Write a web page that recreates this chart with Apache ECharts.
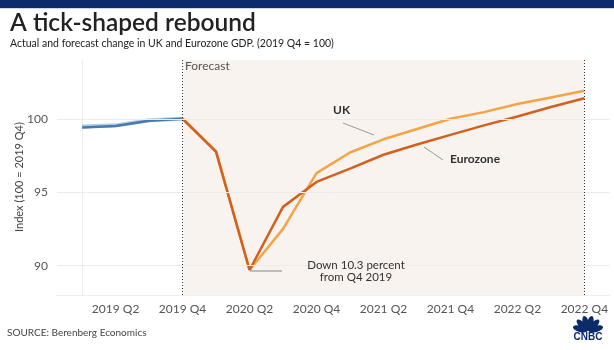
<!DOCTYPE html>
<html>
<head>
<meta charset="utf-8">
<script src="https://cdn.jsdelivr.net/npm/echarts@6/dist/echarts.min.js"></script>
<style>
  html, body { margin: 0; padding: 0; background: #fff; }
  #chart { width: 614px; height: 350px; }
</style>
</head>
<body>
<div id="chart"></div>
<script>
// quarters on the x axis, 2019 Q1 = index 0
const quarters = ['2019 Q1', '2019 Q2', '2019 Q3', '2019 Q4',
  '2020 Q1', '2020 Q2', '2020 Q3', '2020 Q4',
  '2021 Q1', '2021 Q2', '2021 Q3', '2021 Q4',
  '2022 Q1', '2022 Q2', '2022 Q3', '2022 Q4'];

// actual (2019 Q1 .. 2019 Q4)
const ukActual = [99.47, 99.55, 99.9, 100];
const ezActual = [99.4, 99.5, 99.86, 100];

// forecast (2019 Q4 .. 2022 Q4)
const forecastStart = 3;
const ukForecast = [100, 97.8, 89.7, 92.5, 96.3, 97.7, 98.6, 99.3, 100.0, 100.45, 101.0, 101.45, 101.9];
const ezForecast = [100, 97.75, 89.7, 94.0, 95.7, 96.6, 97.55, 98.25, 98.9, 99.55, 100.15, 100.8, 101.4];

const yGrid = [90, 95, 100];

const pairs = (vals, start) => vals.map((v, i) => [start + i, v]);

const chart = echarts.init(document.getElementById('chart'));
const font = 'Lato, "Open Sans", sans-serif';

// logo petals for the CNBC mark
const petals = [-75, -45, -15, 15, 45, 75].map(a => {
  const r = a * Math.PI / 180;
  return {
    type: 'ellipse',
    x: 588 + 8 * Math.sin(r),
    y: 331 - 8 * Math.cos(r),
    rotation: -r,
    shape: { cx: 0, cy: 0, rx: 3.1, ry: 7.5 },
    style: { fill: '#0c2b6b' }
  };
});

chart.setOption({
  animation: false,
  backgroundColor: '#fff',
  textStyle: { fontFamily: font },
  grid: { left: 57, right: 4.5, top: 60, bottom: 55 },
  xAxis: {
    type: 'value',
    min: -0.75,
    max: 15.75,
    interval: 0.25,
    axisLine: { show: true, lineStyle: { color: '#eeeeee' } },
    axisTick: { show: false },
    splitLine: { show: false },
    axisLabel: {
      color: '#555',
      fontSize: 12,
      margin: 8,
      formatter: v => (Number.isInteger(v) && v % 2 === 1) ? quarters[v] : ''
    }
  },
  yAxis: {
    type: 'value',
    min: 88,
    max: 104,
    interval: 1,
    axisLine: { show: true, lineStyle: { color: '#eeeeee' } },
    axisTick: { show: false },
    splitLine: { show: false },
    axisLabel: {
      color: '#555',
      fontSize: 12,
      margin: 9,
      formatter: v => (v % 5 === 0) ? String(v) : ''
    }
  },
  series: [
    {
      type: 'line',
      data: [],
      silent: true,
      markArea: {
        silent: true,
        itemStyle: { color: '#f8f3ef' },
        data: [[{ xAxis: forecastStart }, { xAxis: quarters.length - 1 }]]
      },
      markLine: {
        silent: true,
        symbol: 'none',
        label: { show: false },
        data: yGrid.map(v => ({ yAxis: v, lineStyle: { color: '#ebebeb', width: 1, type: 'solid' } }))
          .concat([forecastStart, quarters.length - 1].map(x => ({ xAxis: x, lineStyle: { color: '#333', width: 1, type: [1, 2] } })))
      }
    },
    {
      name: 'UK actual',
      type: 'line',
      data: pairs(ukActual, 0),
      symbol: 'none',
      lineStyle: { color: '#a9d0ee', width: 4 },
      z: 3
    },
    {
      name: 'Eurozone actual',
      type: 'line',
      data: pairs(ezActual, 0),
      symbol: 'none',
      lineStyle: { color: '#4a78aa', width: 2.5 },
      z: 4
    },
    {
      name: 'UK',
      type: 'line',
      data: pairs(ukForecast, forecastStart),
      symbol: 'none',
      lineStyle: { color: '#f5a445', width: 2.5 },
      z: 3
    },
    {
      name: 'Eurozone',
      type: 'line',
      data: pairs(ezForecast, forecastStart),
      symbol: 'none',
      lineStyle: { color: '#d2601f', width: 2.5 },
      z: 4
    }
  ],
  graphic: [
    { type: 'rect', z: 100, shape: { x: 0, y: 0, width: 614, height: 8 }, style: { fill: '#0c2b6b' } },
    { type: 'rect', z: 100, shape: { x: 0, y: 8, width: 614, height: 1 }, style: { fill: '#c9d8ee' } },
    { type: 'text', z: 100, left: 10, top: 11, style: { text: 'A tick-shaped rebound', fill: '#222', font: '600 24.5px ' + font } },
    { type: 'text', z: 100, left: 10, top: 38, style: { text: 'Actual and forecast change in UK and Eurozone GDP. (2019 Q4 = 100)', fill: '#222', font: '10.5px ' + font } },
    { type: 'text', z: 100, x: 19, y: 177, rotation: Math.PI / 2, style: { text: 'Index (100 = 2019 Q4)', fill: '#444', font: '11px ' + font, align: 'center', verticalAlign: 'middle' } },
    { type: 'text', z: 100, left: 185, top: 60, style: { text: 'Forecast', fill: '#555', font: '12px ' + font } },
    { type: 'text', z: 100, left: 333, top: 104, style: { text: 'UK', fill: '#333', font: 'bold 12px ' + font } },
    { type: 'line', z: 100, shape: { x1: 343, y1: 123, x2: 374, y2: 135 }, style: { stroke: '#999', lineWidth: 1 } },
    { type: 'text', z: 100, left: 450, top: 153, style: { text: 'Eurozone', fill: '#333', font: 'bold 12px ' + font } },
    { type: 'line', z: 100, shape: { x1: 424, y1: 147, x2: 443, y2: 160 }, style: { stroke: '#999', lineWidth: 1 } },
    { type: 'line', z: 100, shape: { x1: 250, y1: 271, x2: 282, y2: 271 }, style: { stroke: '#aaa', lineWidth: 1.5 } },
    { type: 'text', z: 100, x: 356, y: 259, style: { text: 'Down 10.3 percent\nfrom Q4 2019', fill: '#333', font: '11.5px ' + font, align: 'center', lineHeight: 12.5 } },
    { type: 'text', z: 100, left: 7, top: 328, style: { text: 'SOURCE: Berenberg Economics', fill: '#444', font: '10px ' + font } },
    { type: 'group', z: 100, children: petals },
    { type: 'text', z: 100, x: 588, y: 332, style: { text: 'CNBC', fill: '#0c2b6b', font: 'bold 10px Arial, sans-serif', align: 'center' } }
  ]
});
</script>
</body>
</html>
